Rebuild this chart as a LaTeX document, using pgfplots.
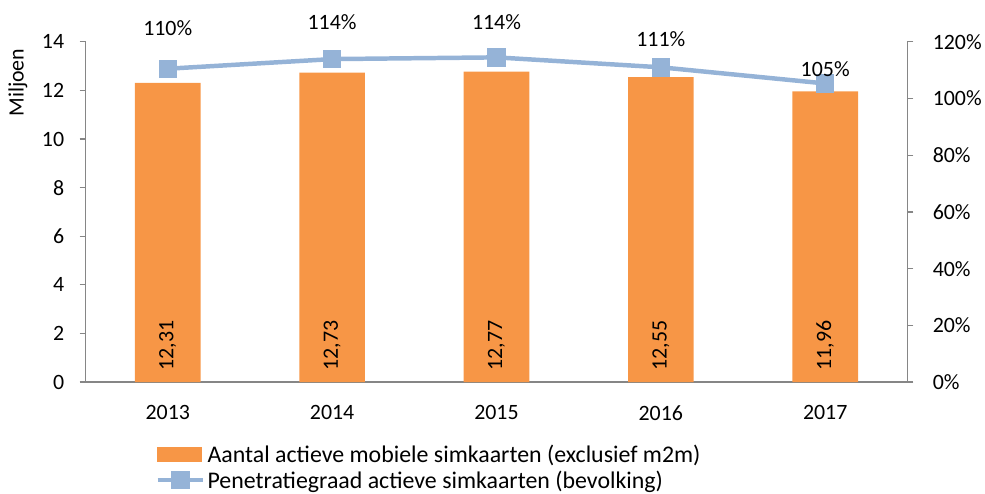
\documentclass[border=0pt]{standalone}
\usepackage{pgfplots}
\pgfplotsset{compat=1.18}
\usepackage{pgfplotstable}
\usepackage{fontspec}
\setmainfont{Carlito}
\definecolor{barorange}{HTML}{F79646}
\definecolor{lineblue}{HTML}{95B3D7}
\definecolor{axgray}{HTML}{868686}

\pgfplotstableread{
x val lab
0 12.31 {12,31}
1 12.73 {12,73}
2 12.77 {12,77}
3 12.55 {12,55}
4 11.96 {11,96}
}\bardata

\pgfplotstableread{
x pct off lab
0 110.5 41 {110\%}
1 113.9 37 {114\%}
2 114.5 35 {114\%}
3 111.0 28 {111\%}
4 105.3 14 {105\%}
}\linedata

\pgfplotsset{
  common/.style={
    scale only axis, width=826bp, height=342bp,
    xmin=-0.5, xmax=4.5,
    /pgf/number format/assume math mode=true,
    tick align=outside,
    every tick label/.append style={font=\fontsize{22bp}{26bp}\selectfont, text=black},
    axis line style={axgray, line width=1.2bp},
    major tick style={axgray, line width=1.2bp},
    minor tick style={axgray, line width=1.2bp},
    major tick length=6bp, minor tick length=6bp,
  }
}

\begin{document}
\begin{tikzpicture}
\begin{axis}[common,
  axis x line*=bottom, axis y line*=left,
  ymin=0, ymax=14, ytick={0,2,...,14},
  xtick={0,1,2,3,4}, xticklabels={2013,2014,2015,2016,2017},
  minor xtick={-0.5,0.5,1.5,2.5,3.5,4.5},
  xtick style={draw=none},
  xticklabel style={yshift=-14bp},
  yticklabel style={xshift=-12bp},
  ylabel={Miljoen},
  ylabel style={at={(axis description cs:-0.0823,0.88)}, anchor=center, rotate=0, font=\fontsize{22bp}{26bp}\selectfont},
]
\addplot[ybar, bar width=66bp, fill=barorange, draw=none] table[x=x, y=val] {\bardata};
\addplot[draw=none, mark=none, nodes near coords, point meta=explicit symbolic,
  nodes near coords style={rotate=90, anchor=center, font=\fontsize{22bp}{26bp}\selectfont, text=black}]
  table[x=x, y expr=1.51, meta=lab] {\bardata};
\end{axis}
\begin{axis}[common,
  axis y line*=right, axis x line=none,
  ymin=0, ymax=120, ytick={0,20,...,120},
  yticklabel={\pgfmathprintnumber{\tick}\%},
  yticklabel style={xshift=16bp},
  legend cell align=left,
  legend style={at={(0.0847,-0.178)}, anchor=north west, draw=none, fill=none,
    inner sep=0pt, font=\fontsize{24bp}{28bp}\selectfont, row sep=3bp,
    nodes={inner sep=2bp}},
]
\addlegendimage{legend image code/.code={\fill[barorange] (0bp,-7bp) rectangle (44bp,7bp);}}
\addlegendentry{Aantal actieve mobiele simkaarten (exclusief m2m)}
\addplot[lineblue, line width=4.5bp, mark=square*, mark size=7bp,
  mark options={fill=lineblue, draw=none},
  visualization depends on={\thisrow{off}\as\off},
  nodes near coords, point meta=explicit symbolic,
  nodes near coords style={anchor=center, yshift=\off bp, font=\fontsize{22bp}{26bp}\selectfont, text=black},
  legend image code/.code={\draw[lineblue, line width=4.5bp] (0bp,0bp) -- (46bp,0bp); \fill[lineblue] (16bp,-7bp) rectangle (30bp,7bp);}]
  table[x=x, y=pct, meta=lab] {\linedata};
\addlegendentry{Penetratiegraad actieve simkaarten (bevolking)}
\end{axis}
\path[use as bounding box] (-86bp,-112bp) rectangle (899bp,384bp);
\end{tikzpicture}
\end{document}
